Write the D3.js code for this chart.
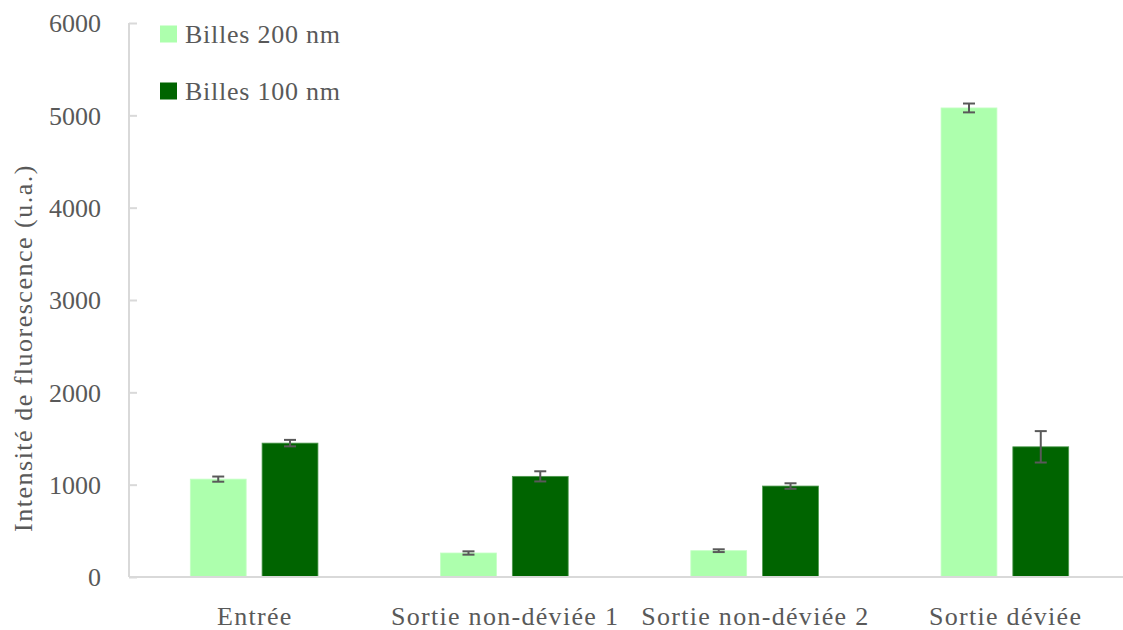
<!DOCTYPE html>
<html><head><meta charset="utf-8">
<script src="https://cdn.jsdelivr.net/npm/d3@7"></script>
<style>
html,body{margin:0;padding:0;background:#fff;}
svg{display:block;}
text{font-family:"Liberation Serif","Times New Roman",serif;fill:#595959;}
</style></head>
<body>
<svg id="chart" width="1123" height="630"></svg>
<script>
const categories = ["Entrée", "Sortie non-déviée 1", "Sortie non-déviée 2", "Sortie déviée"];
const seriesNames = ["Billes 200 nm", "Billes 100 nm"];
const values200 = [1060, 260, 285, 5080];
const errors200 = [28, 18, 15, 48];
const values100 = [1450, 1090, 985, 1410];
const errors100 = [35, 55, 30, 170];
const yTicks = [0, 1000, 2000, 3000, 4000, 5000, 6000];
const colors = ["#adffad", "#006400"];

const svg = d3.select("#chart");
const mLeft = 129, mRight = 1130, mTop = 23, mBottom = 577;

const x = d3.scaleBand().domain(categories).range([mLeft, mRight]).paddingInner(0.49).paddingOuter(0.245);
const xs = d3.scaleBand().domain(seriesNames).range([0, x.bandwidth()]).paddingInner(0.222);
const y = d3.scaleLinear().domain([0, 6000]).range([mBottom, mTop]);

const data = [];
categories.forEach((c, i) => {
  data.push({cat: c, s: seriesNames[0], v: values200[i], e: errors200[i], col: colors[0]});
  data.push({cat: c, s: seriesNames[1], v: values100[i], e: errors100[i], col: colors[1]});
});

// y axis
const yAxis = svg.append("g").attr("transform", `translate(${mLeft},0)`)
  .call(d3.axisRight(y).tickValues(yTicks).tickSize(8).tickFormat(d3.format("d")));
yAxis.select(".domain").remove();
yAxis.selectAll(".tick line").attr("stroke", "#d9d9d9").attr("stroke-width", 2);
yAxis.selectAll(".tick text").attr("x", -28).attr("text-anchor", "end")
  .attr("font-size", 26).attr("dy", "0.34em").style("font-family", '"Liberation Serif",serif').attr("fill", "#595959");
svg.append("line").attr("x1", mLeft).attr("x2", mLeft).attr("y1", mTop).attr("y2", mBottom)
  .attr("stroke", "#d9d9d9").attr("stroke-width", 2);

// bars
svg.append("g").selectAll("rect").data(data).join("rect")
  .attr("x", d => x(d.cat) + xs(d.s))
  .attr("width", xs.bandwidth())
  .attr("y", d => y(d.v))
  .attr("height", d => y(0) - y(d.v))
  .attr("fill", d => d.col)
  .attr("stroke", (d, i) => i % 2 ? "#4f9a4f" : "#c4ffc4")
  .attr("stroke-width", 0.8);

// x axis line
svg.append("line").attr("x1", mLeft).attr("x2", mRight).attr("y1", mBottom).attr("y2", mBottom)
  .attr("stroke", "#d9d9d9").attr("stroke-width", 2);

// error bars
const eg = svg.append("g").attr("stroke", "#595959").attr("stroke-width", 2);
data.forEach(d => {
  const cx = x(d.cat) + xs(d.s) + xs.bandwidth() / 2;
  const y1 = y(d.v + d.e), y2 = y(d.v - d.e);
  eg.append("line").attr("x1", cx).attr("x2", cx).attr("y1", y1).attr("y2", y2);
  eg.append("line").attr("x1", cx - 6).attr("x2", cx + 6).attr("y1", y1).attr("y2", y1);
  eg.append("line").attr("x1", cx - 6).attr("x2", cx + 6).attr("y1", y2).attr("y2", y2);
});

// x labels
svg.append("g").selectAll("text").data(categories).join("text")
  .attr("x", d => x(d) + x.bandwidth() / 2 + 0.7)
  .attr("y", 625)
  .attr("text-anchor", "middle")
  .attr("font-size", 26)
  .attr("letter-spacing", 1.3)
  .text(d => d);

// y title
svg.append("text")
  .attr("transform", "translate(32,348) rotate(-90)")
  .attr("text-anchor", "middle")
  .attr("font-size", 26)
  .attr("letter-spacing", 1.5)
  .text("Intensité de fluorescence (u.a.)");

// legend
const lg = svg.append("g");
seriesNames.forEach((s, i) => {
  const yy = 34 + i * 57;
  lg.append("rect").attr("x", 160).attr("y", yy - 8.5).attr("width", 17).attr("height", 17).attr("fill", colors[i]);
  lg.append("text").attr("x", 185).attr("y", yy).attr("dy", "0.34em")
    .attr("font-size", 26).attr("letter-spacing", 0.75).text(s);
});
</script>
</body></html>
